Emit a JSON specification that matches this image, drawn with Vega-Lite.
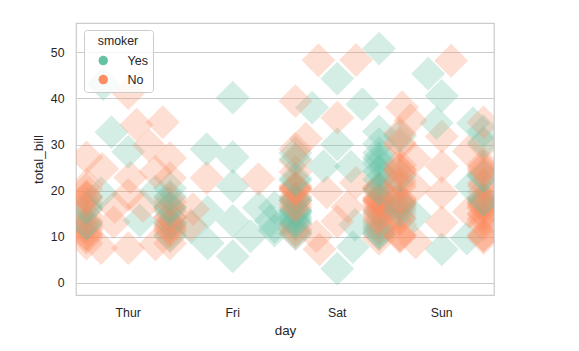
{
 "$schema": "https://vega.github.io/schema/vega-lite/v6.json",
 "width": 418, "height": 272,
 "autosize": {"type": "none"},
 "padding": {"left": 76, "top": 23, "right": 85, "bottom": 56},
 "background": "white",
 "config": {
  "font": "Liberation Sans",
  "view": {"stroke": "#cccccc", "strokeWidth": 1.25},
  "axis": {"labelColor": "#262626", "titleColor": "#262626", "labelFont": "Liberation Sans", "titleFont": "Liberation Sans", "titleFontWeight": "normal", "domain": false, "ticks": false, "tickSize": 0}
 },
 "data": {"values": [
  {"day":"Thur","smoker":"No","total_bill":7.51,"jitter":0},
  {"day":"Thur","smoker":"No","total_bill":7.56,"jitter":-0.26},
  {"day":"Thur","smoker":"No","total_bill":8.35,"jitter":0.26},
  {"day":"Thur","smoker":"No","total_bill":8.51,"jitter":-0.4},
  {"day":"Thur","smoker":"No","total_bill":8.52,"jitter":0.4},
  {"day":"Thur","smoker":"No","total_bill":9.78,"jitter":-0.4},
  {"day":"Thur","smoker":"No","total_bill":10.07,"jitter":0.4},
  {"day":"Thur","smoker":"No","total_bill":10.33,"jitter":-0.4},
  {"day":"Thur","smoker":"Yes","total_bill":10.34,"jitter":0.4},
  {"day":"Thur","smoker":"No","total_bill":10.65,"jitter":-0.4},
  {"day":"Thur","smoker":"No","total_bill":11.17,"jitter":0.4},
  {"day":"Thur","smoker":"No","total_bill":11.38,"jitter":-0.4},
  {"day":"Thur","smoker":"No","total_bill":11.69,"jitter":0.4},
  {"day":"Thur","smoker":"No","total_bill":11.87,"jitter":-0.4},
  {"day":"Thur","smoker":"No","total_bill":12.26,"jitter":0.4},
  {"day":"Thur","smoker":"No","total_bill":12.43,"jitter":-0.4},
  {"day":"Thur","smoker":"No","total_bill":12.48,"jitter":0.4},
  {"day":"Thur","smoker":"Yes","total_bill":12.74,"jitter":-0.4},
  {"day":"Thur","smoker":"Yes","total_bill":13.0,"jitter":0.4},
  {"day":"Thur","smoker":"Yes","total_bill":13.0,"jitter":-0.4},
  {"day":"Thur","smoker":"No","total_bill":13.03,"jitter":0.4},
  {"day":"Thur","smoker":"No","total_bill":13.16,"jitter":-0.14},
  {"day":"Thur","smoker":"No","total_bill":13.42,"jitter":-0.4},
  {"day":"Thur","smoker":"Yes","total_bill":13.51,"jitter":0.11},
  {"day":"Thur","smoker":"No","total_bill":14.15,"jitter":0.4},
  {"day":"Thur","smoker":"No","total_bill":14.26,"jitter":0.4},
  {"day":"Thur","smoker":"No","total_bill":14.52,"jitter":-0.4},
  {"day":"Thur","smoker":"Yes","total_bill":15.48,"jitter":0.4},
  {"day":"Thur","smoker":"No","total_bill":15.95,"jitter":-0.4},
  {"day":"Thur","smoker":"No","total_bill":15.98,"jitter":0.4},
  {"day":"Thur","smoker":"Yes","total_bill":16.0,"jitter":-0.4},
  {"day":"Thur","smoker":"Yes","total_bill":16.4,"jitter":0.4},
  {"day":"Thur","smoker":"No","total_bill":16.43,"jitter":-0.13},
  {"day":"Thur","smoker":"Yes","total_bill":16.47,"jitter":0.4},
  {"day":"Thur","smoker":"Yes","total_bill":16.58,"jitter":-0.4},
  {"day":"Thur","smoker":"No","total_bill":16.66,"jitter":0.14},
  {"day":"Thur","smoker":"No","total_bill":17.29,"jitter":-0.4},
  {"day":"Thur","smoker":"No","total_bill":17.47,"jitter":0.4},
  {"day":"Thur","smoker":"No","total_bill":18.26,"jitter":-0.4},
  {"day":"Thur","smoker":"No","total_bill":18.28,"jitter":0.4},
  {"day":"Thur","smoker":"No","total_bill":18.64,"jitter":-0.4},
  {"day":"Thur","smoker":"Yes","total_bill":18.71,"jitter":0.4},
  {"day":"Thur","smoker":"No","total_bill":18.78,"jitter":-0.4},
  {"day":"Thur","smoker":"No","total_bill":19.08,"jitter":0},
  {"day":"Thur","smoker":"Yes","total_bill":19.44,"jitter":-0.26},
  {"day":"Thur","smoker":"Yes","total_bill":19.81,"jitter":0.26},
  {"day":"Thur","smoker":"No","total_bill":20.27,"jitter":-0.4},
  {"day":"Thur","smoker":"Yes","total_bill":20.53,"jitter":0.4},
  {"day":"Thur","smoker":"No","total_bill":21.16,"jitter":-0.4},
  {"day":"Thur","smoker":"No","total_bill":22.76,"jitter":0.4},
  {"day":"Thur","smoker":"No","total_bill":22.82,"jitter":0.02},
  {"day":"Thur","smoker":"No","total_bill":24.08,"jitter":0.26},
  {"day":"Thur","smoker":"No","total_bill":24.71,"jitter":-0.25},
  {"day":"Thur","smoker":"No","total_bill":27.05,"jitter":0.4},
  {"day":"Thur","smoker":"No","total_bill":27.2,"jitter":-0.4},
  {"day":"Thur","smoker":"Yes","total_bill":28.44,"jitter":0},
  {"day":"Thur","smoker":"No","total_bill":29.8,"jitter":0.2},
  {"day":"Thur","smoker":"Yes","total_bill":32.68,"jitter":-0.16},
  {"day":"Thur","smoker":"No","total_bill":34.3,"jitter":0.08},
  {"day":"Thur","smoker":"No","total_bill":34.83,"jitter":0.33},
  {"day":"Thur","smoker":"No","total_bill":41.19,"jitter":0},
  {"day":"Thur","smoker":"Yes","total_bill":43.11,"jitter":-0.24},
  {"day":"Fri","smoker":"Yes","total_bill":5.75,"jitter":0},
  {"day":"Fri","smoker":"Yes","total_bill":8.58,"jitter":-0.24},
  {"day":"Fri","smoker":"Yes","total_bill":10.09,"jitter":0.17},
  {"day":"Fri","smoker":"Yes","total_bill":11.35,"jitter":0.4},
  {"day":"Fri","smoker":"Yes","total_bill":12.03,"jitter":-0.4},
  {"day":"Fri","smoker":"Yes","total_bill":12.16,"jitter":0.4},
  {"day":"Fri","smoker":"No","total_bill":12.46,"jitter":-0.4},
  {"day":"Fri","smoker":"Yes","total_bill":13.42,"jitter":0},
  {"day":"Fri","smoker":"Yes","total_bill":13.42,"jitter":0.36},
  {"day":"Fri","smoker":"Yes","total_bill":15.38,"jitter":-0.24},
  {"day":"Fri","smoker":"No","total_bill":15.98,"jitter":-0.38},
  {"day":"Fri","smoker":"Yes","total_bill":16.27,"jitter":0.25},
  {"day":"Fri","smoker":"Yes","total_bill":16.32,"jitter":0.4},
  {"day":"Fri","smoker":"Yes","total_bill":21.01,"jitter":0},
  {"day":"Fri","smoker":"No","total_bill":22.49,"jitter":0.245},
  {"day":"Fri","smoker":"No","total_bill":22.75,"jitter":-0.25},
  {"day":"Fri","smoker":"Yes","total_bill":27.28,"jitter":0},
  {"day":"Fri","smoker":"Yes","total_bill":28.97,"jitter":-0.25},
  {"day":"Fri","smoker":"Yes","total_bill":40.17,"jitter":0},
  {"day":"Sat","smoker":"Yes","total_bill":3.07,"jitter":0},
  {"day":"Sat","smoker":"No","total_bill":7.25,"jitter":-0.17},
  {"day":"Sat","smoker":"Yes","total_bill":7.74,"jitter":0.15},
  {"day":"Sat","smoker":"No","total_bill":9.55,"jitter":0.4},
  {"day":"Sat","smoker":"No","total_bill":10.07,"jitter":-0.2},
  {"day":"Sat","smoker":"No","total_bill":10.51,"jitter":0.4},
  {"day":"Sat","smoker":"Yes","total_bill":10.59,"jitter":-0.4},
  {"day":"Sat","smoker":"Yes","total_bill":10.63,"jitter":0.4},
  {"day":"Sat","smoker":"No","total_bill":10.77,"jitter":-0.4},
  {"day":"Sat","smoker":"Yes","total_bill":11.02,"jitter":0.4},
  {"day":"Sat","smoker":"Yes","total_bill":11.24,"jitter":-0.4},
  {"day":"Sat","smoker":"Yes","total_bill":11.59,"jitter":0.4},
  {"day":"Sat","smoker":"No","total_bill":11.61,"jitter":-0.4},
  {"day":"Sat","smoker":"No","total_bill":12.02,"jitter":0.4},
  {"day":"Sat","smoker":"Yes","total_bill":12.6,"jitter":0.17},
  {"day":"Sat","smoker":"No","total_bill":12.69,"jitter":-0.4},
  {"day":"Sat","smoker":"Yes","total_bill":12.76,"jitter":0.4},
  {"day":"Sat","smoker":"Yes","total_bill":12.9,"jitter":-0.4},
  {"day":"Sat","smoker":"Yes","total_bill":13.27,"jitter":-0.4},
  {"day":"Sat","smoker":"No","total_bill":13.28,"jitter":0},
  {"day":"Sat","smoker":"No","total_bill":13.37,"jitter":0.4},
  {"day":"Sat","smoker":"Yes","total_bill":13.81,"jitter":-0.4},
  {"day":"Sat","smoker":"No","total_bill":14.0,"jitter":0.4},
  {"day":"Sat","smoker":"Yes","total_bill":14.31,"jitter":-0.4},
  {"day":"Sat","smoker":"No","total_bill":14.73,"jitter":0.4},
  {"day":"Sat","smoker":"Yes","total_bill":15.01,"jitter":-0.4},
  {"day":"Sat","smoker":"No","total_bill":15.06,"jitter":0.4},
  {"day":"Sat","smoker":"Yes","total_bill":15.36,"jitter":-0.4},
  {"day":"Sat","smoker":"Yes","total_bill":15.53,"jitter":0.4},
  {"day":"Sat","smoker":"Yes","total_bill":15.69,"jitter":-0.4},
  {"day":"Sat","smoker":"No","total_bill":15.77,"jitter":0.4},
  {"day":"Sat","smoker":"Yes","total_bill":15.81,"jitter":-0.4},
  {"day":"Sat","smoker":"No","total_bill":16.04,"jitter":0.4},
  {"day":"Sat","smoker":"No","total_bill":16.31,"jitter":-0.4},
  {"day":"Sat","smoker":"No","total_bill":16.45,"jitter":0.1},
  {"day":"Sat","smoker":"No","total_bill":16.93,"jitter":0.4},
  {"day":"Sat","smoker":"No","total_bill":17.07,"jitter":-0.4},
  {"day":"Sat","smoker":"No","total_bill":17.59,"jitter":0.4},
  {"day":"Sat","smoker":"No","total_bill":17.78,"jitter":-0.4},
  {"day":"Sat","smoker":"No","total_bill":17.81,"jitter":0.4},
  {"day":"Sat","smoker":"No","total_bill":17.82,"jitter":-0.4},
  {"day":"Sat","smoker":"No","total_bill":17.92,"jitter":0.4},
  {"day":"Sat","smoker":"Yes","total_bill":17.92,"jitter":-0.4},
  {"day":"Sat","smoker":"No","total_bill":18.24,"jitter":0.4},
  {"day":"Sat","smoker":"Yes","total_bill":18.29,"jitter":-0.4},
  {"day":"Sat","smoker":"No","total_bill":18.35,"jitter":0.4},
  {"day":"Sat","smoker":"No","total_bill":18.69,"jitter":-0.4},
  {"day":"Sat","smoker":"No","total_bill":19.65,"jitter":-0.1},
  {"day":"Sat","smoker":"No","total_bill":19.82,"jitter":0.4},
  {"day":"Sat","smoker":"No","total_bill":20.08,"jitter":-0.4},
  {"day":"Sat","smoker":"No","total_bill":20.23,"jitter":0.4},
  {"day":"Sat","smoker":"No","total_bill":20.29,"jitter":-0.4},
  {"day":"Sat","smoker":"Yes","total_bill":20.29,"jitter":0.4},
  {"day":"Sat","smoker":"No","total_bill":20.45,"jitter":-0.4},
  {"day":"Sat","smoker":"Yes","total_bill":20.49,"jitter":0.4},
  {"day":"Sat","smoker":"No","total_bill":20.65,"jitter":-0.4},
  {"day":"Sat","smoker":"No","total_bill":20.69,"jitter":0.4},
  {"day":"Sat","smoker":"No","total_bill":20.92,"jitter":-0.4},
  {"day":"Sat","smoker":"No","total_bill":21.7,"jitter":0.18},
  {"day":"Sat","smoker":"Yes","total_bill":22.12,"jitter":-0.4},
  {"day":"Sat","smoker":"Yes","total_bill":22.42,"jitter":0.4},
  {"day":"Sat","smoker":"Yes","total_bill":22.67,"jitter":-0.4},
  {"day":"Sat","smoker":"Yes","total_bill":24.01,"jitter":0.4},
  {"day":"Sat","smoker":"No","total_bill":24.06,"jitter":-0.4},
  {"day":"Sat","smoker":"Yes","total_bill":24.27,"jitter":0.4},
  {"day":"Sat","smoker":"Yes","total_bill":25.21,"jitter":0.13},
  {"day":"Sat","smoker":"Yes","total_bill":25.28,"jitter":-0.13},
  {"day":"Sat","smoker":"Yes","total_bill":25.89,"jitter":0.4},
  {"day":"Sat","smoker":"No","total_bill":26.41,"jitter":-0.4},
  {"day":"Sat","smoker":"Yes","total_bill":26.59,"jitter":0.4},
  {"day":"Sat","smoker":"Yes","total_bill":26.86,"jitter":-0.4},
  {"day":"Sat","smoker":"Yes","total_bill":27.18,"jitter":0.4},
  {"day":"Sat","smoker":"Yes","total_bill":28.15,"jitter":-0.4},
  {"day":"Sat","smoker":"Yes","total_bill":28.17,"jitter":0.4},
  {"day":"Sat","smoker":"No","total_bill":29.03,"jitter":-0.4},
  {"day":"Sat","smoker":"Yes","total_bill":30.06,"jitter":0},
  {"day":"Sat","smoker":"Yes","total_bill":30.14,"jitter":0.4},
  {"day":"Sat","smoker":"No","total_bill":31.27,"jitter":-0.3},
  {"day":"Sat","smoker":"Yes","total_bill":32.83,"jitter":0.4},
  {"day":"Sat","smoker":"No","total_bill":35.83,"jitter":0},
  {"day":"Sat","smoker":"Yes","total_bill":38.01,"jitter":-0.24},
  {"day":"Sat","smoker":"Yes","total_bill":38.73,"jitter":0.24},
  {"day":"Sat","smoker":"No","total_bill":39.42,"jitter":-0.4},
  {"day":"Sat","smoker":"Yes","total_bill":44.3,"jitter":0},
  {"day":"Sat","smoker":"No","total_bill":48.27,"jitter":-0.18},
  {"day":"Sat","smoker":"No","total_bill":48.33,"jitter":0.18},
  {"day":"Sat","smoker":"Yes","total_bill":50.81,"jitter":0.4},
  {"day":"Sun","smoker":"Yes","total_bill":7.25,"jitter":0},
  {"day":"Sun","smoker":"No","total_bill":8.77,"jitter":-0.25},
  {"day":"Sun","smoker":"Yes","total_bill":9.6,"jitter":0.24},
  {"day":"Sun","smoker":"No","total_bill":9.68,"jitter":0.4},
  {"day":"Sun","smoker":"No","total_bill":9.94,"jitter":-0.4},
  {"day":"Sun","smoker":"No","total_bill":10.27,"jitter":0.4},
  {"day":"Sun","smoker":"No","total_bill":10.29,"jitter":-0.4},
  {"day":"Sun","smoker":"No","total_bill":10.33,"jitter":0.4},
  {"day":"Sun","smoker":"No","total_bill":10.34,"jitter":-0.4},
  {"day":"Sun","smoker":"No","total_bill":12.54,"jitter":0.4},
  {"day":"Sun","smoker":"No","total_bill":12.66,"jitter":-0.4},
  {"day":"Sun","smoker":"No","total_bill":13.13,"jitter":0},
  {"day":"Sun","smoker":"No","total_bill":13.39,"jitter":0.4},
  {"day":"Sun","smoker":"No","total_bill":13.81,"jitter":-0.4},
  {"day":"Sun","smoker":"No","total_bill":13.94,"jitter":0.4},
  {"day":"Sun","smoker":"No","total_bill":14.07,"jitter":-0.4},
  {"day":"Sun","smoker":"Yes","total_bill":14.48,"jitter":-0.26},
  {"day":"Sun","smoker":"No","total_bill":14.78,"jitter":0.4},
  {"day":"Sun","smoker":"No","total_bill":14.83,"jitter":-0.4},
  {"day":"Sun","smoker":"No","total_bill":15.04,"jitter":0.4},
  {"day":"Sun","smoker":"No","total_bill":15.42,"jitter":0.26},
  {"day":"Sun","smoker":"Yes","total_bill":15.69,"jitter":-0.4},
  {"day":"Sun","smoker":"No","total_bill":16.21,"jitter":0.4},
  {"day":"Sun","smoker":"No","total_bill":16.29,"jitter":-0.4},
  {"day":"Sun","smoker":"No","total_bill":16.49,"jitter":0.4},
  {"day":"Sun","smoker":"Yes","total_bill":16.82,"jitter":-0.4},
  {"day":"Sun","smoker":"No","total_bill":16.97,"jitter":0.4},
  {"day":"Sun","smoker":"No","total_bill":16.99,"jitter":-0.4},
  {"day":"Sun","smoker":"No","total_bill":17.26,"jitter":0.4},
  {"day":"Sun","smoker":"No","total_bill":17.31,"jitter":-0.4},
  {"day":"Sun","smoker":"No","total_bill":17.46,"jitter":0.4},
  {"day":"Sun","smoker":"Yes","total_bill":17.51,"jitter":-0.4},
  {"day":"Sun","smoker":"Yes","total_bill":17.89,"jitter":0.4},
  {"day":"Sun","smoker":"No","total_bill":18.04,"jitter":-0.4},
  {"day":"Sun","smoker":"Yes","total_bill":18.15,"jitter":0.4},
  {"day":"Sun","smoker":"No","total_bill":18.29,"jitter":-0.4},
  {"day":"Sun","smoker":"No","total_bill":18.43,"jitter":0.4},
  {"day":"Sun","smoker":"No","total_bill":19.49,"jitter":0},
  {"day":"Sun","smoker":"No","total_bill":19.77,"jitter":0.4},
  {"day":"Sun","smoker":"No","total_bill":20.69,"jitter":-0.26},
  {"day":"Sun","smoker":"No","total_bill":20.76,"jitter":-0.4},
  {"day":"Sun","smoker":"Yes","total_bill":20.9,"jitter":0.28},
  {"day":"Sun","smoker":"No","total_bill":21.01,"jitter":0.4},
  {"day":"Sun","smoker":"No","total_bill":21.5,"jitter":-0.4},
  {"day":"Sun","smoker":"No","total_bill":21.58,"jitter":0.4},
  {"day":"Sun","smoker":"No","total_bill":22.23,"jitter":-0.4},
  {"day":"Sun","smoker":"Yes","total_bill":23.1,"jitter":0.4},
  {"day":"Sun","smoker":"Yes","total_bill":23.17,"jitter":-0.4},
  {"day":"Sun","smoker":"Yes","total_bill":23.33,"jitter":0.4},
  {"day":"Sun","smoker":"No","total_bill":23.68,"jitter":-0.4},
  {"day":"Sun","smoker":"No","total_bill":23.95,"jitter":0.4},
  {"day":"Sun","smoker":"No","total_bill":24.52,"jitter":-0.4},
  {"day":"Sun","smoker":"No","total_bill":24.55,"jitter":0.4},
  {"day":"Sun","smoker":"No","total_bill":24.59,"jitter":-0.4},
  {"day":"Sun","smoker":"No","total_bill":25.0,"jitter":0.4},
  {"day":"Sun","smoker":"No","total_bill":25.29,"jitter":0},
  {"day":"Sun","smoker":"No","total_bill":25.56,"jitter":-0.4},
  {"day":"Sun","smoker":"No","total_bill":25.71,"jitter":0.4},
  {"day":"Sun","smoker":"No","total_bill":26.88,"jitter":-0.26},
  {"day":"Sun","smoker":"No","total_bill":28.55,"jitter":0.26},
  {"day":"Sun","smoker":"No","total_bill":29.85,"jitter":-0.4},
  {"day":"Sun","smoker":"No","total_bill":29.93,"jitter":0.4},
  {"day":"Sun","smoker":"No","total_bill":30.4,"jitter":-0.4},
  {"day":"Sun","smoker":"Yes","total_bill":30.46,"jitter":0.4},
  {"day":"Sun","smoker":"No","total_bill":31.71,"jitter":0},
  {"day":"Sun","smoker":"Yes","total_bill":31.85,"jitter":-0.4},
  {"day":"Sun","smoker":"No","total_bill":32.4,"jitter":-0.4},
  {"day":"Sun","smoker":"Yes","total_bill":32.9,"jitter":0.4},
  {"day":"Sun","smoker":"Yes","total_bill":34.63,"jitter":0.3},
  {"day":"Sun","smoker":"Yes","total_bill":34.65,"jitter":-0.05},
  {"day":"Sun","smoker":"No","total_bill":34.81,"jitter":0.4},
  {"day":"Sun","smoker":"No","total_bill":35.26,"jitter":-0.3},
  {"day":"Sun","smoker":"No","total_bill":38.07,"jitter":-0.38},
  {"day":"Sun","smoker":"Yes","total_bill":40.55,"jitter":0},
  {"day":"Sun","smoker":"Yes","total_bill":45.35,"jitter":-0.13},
  {"day":"Sun","smoker":"No","total_bill":48.17,"jitter":0.09}
 ]},
 "mark": {"type": "point", "shape": "diamond", "filled": true, "size": 1150, "opacity": 0.28, "strokeWidth": 0, "clip": true},
 "encoding": {
  "x": {"field": "day", "type": "nominal", "sort": ["Thur", "Fri", "Sat", "Sun"], "scale": {"paddingInner": 0, "paddingOuter": 0},
        "axis": {"labelAngle": 0, "labelFontSize": 12.3, "titleFontSize": 13.4, "labelPadding": 11, "titlePadding": 5, "grid": false}},
  "xOffset": {"field": "jitter", "type": "quantitative", "scale": {"domain": [-0.5, 0.5], "nice": false, "zero": false}},
  "y": {"field": "total_bill", "type": "quantitative", "scale": {"domain": [-2.65, 56.36], "nice": false, "zero": false},
        "axis": {"values": [0, 10, 20, 30, 40, 50], "grid": true, "gridColor": "#cccccc", "gridWidth": 1, "labelFontSize": 12.3, "titleFontSize": 13.4, "labelPadding": 12, "titlePadding": 5}},
  "color": {"field": "smoker", "type": "nominal", "scale": {"domain": ["Yes", "No"], "range": ["#66c2a5", "#fc8d62"]},
        "legend": {"orient": "none", "legendX": 8, "legendY": 7, "title": "smoker", "titleFontSize": 12.3, "titleFontWeight": "normal", "titleColor": "#262626", "titleAnchor": "middle", "labelFontSize": 12.5, "labelColor": "#262626", "symbolType": "circle", "symbolSize": 90, "symbolOpacity": 1, "symbolStrokeWidth": 0, "fillColor": "rgba(255,255,255,0.8)", "strokeColor": "#cccccc", "cornerRadius": 3, "padding": 5, "rowPadding": 6, "labelOffset": 18, "symbolOffset": 8, "titlePadding": 7}}
 }
}
